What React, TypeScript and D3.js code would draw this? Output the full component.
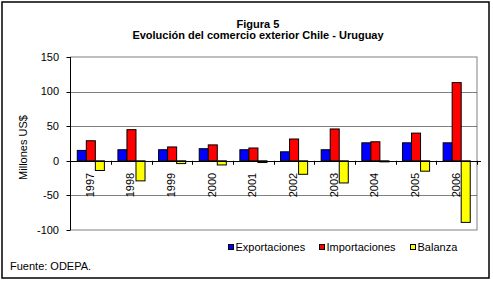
import React from "react";
import * as d3 from "d3";

const years = ["1997", "1998", "1999", "2000", "2001", "2002", "2003", "2004", "2005", "2006"];
const exportaciones = [15, 16, 16, 17.5, 16, 13, 16, 26, 26, 26];
const importaciones = [29, 45, 20, 23, 18.5, 31.5, 46, 27.5, 40, 113];
const balanza = [-14, -29, -4, -6, -2.5, -19.5, -32, -1.5, -15, -89];
const yTicks = [-100, -50, 0, 50, 100, 150];
const gridValues = [-50, 50, 100];
const seriesNames = ["Exportaciones", "Importaciones", "Balanza"];
const seriesColors = ["#0000ff", "#ff0000", "#ffff00"];

const W = 493;
const H = 281;
const FONT = "'Liberation Sans', Arial, sans-serif";

export default function App() {
  const left = 70.5;
  const right = 477;
  const top = 57;
  const bottom = 230;
  const y = d3.scaleLinear().domain([-100, 150]).range([bottom, top]);
  const x0 = d3.scaleBand<string>().domain(years).range([left, right]).padding(0);
  const bw = x0.bandwidth();
  const groupW = bw / 1.5;
  const x1 = d3
    .scaleBand<string>()
    .domain(seriesNames)
    .range([(bw - groupW) / 2, (bw + groupW) / 2])
    .padding(0);
  const series = [exportaciones, importaciones, balanza];
  const y0 = y(0);

  const legendItems = [
    { name: seriesNames[0], color: seriesColors[0], x: 228.5 },
    { name: seriesNames[1], color: seriesColors[1], x: 319.5 },
    { name: seriesNames[2], color: seriesColors[2], x: 410.5 },
  ];

  return (
    <div style={{ position: "absolute", left: 0, top: 0 }}>
      <svg width={W} height={H} style={{ display: "block", fontFamily: FONT }}>
        <rect x={0} y={0} width={W} height={H} fill="#fff" />
        <rect x={2} y={2} width={487} height={276} fill="#fff" stroke="#000" strokeWidth={1.5} />
        <text x={258} y={27.5} textAnchor="middle" fontSize={11} fontWeight="bold">
          Figura 5
        </text>
        <text x={258} y={39} textAnchor="middle" fontSize={11} fontWeight="bold">
          Evolución del comercio exterior Chile - Uruguay
        </text>

        {/* plot border */}
        <rect x={left} y={top} width={right - left} height={bottom - top} fill="none" stroke="#808080" strokeWidth={1} />

        {gridValues.map((v) => (
          <line
            key={v}
            x1={left}
            x2={right}
            y1={Math.round(y(v)) + 0.5}
            y2={Math.round(y(v)) + 0.5}
            stroke="#000"
            strokeWidth={1}
            strokeDasharray="1,1"
          />
        ))}

        {/* bars */}
        {years.map((yr, i) => (
          <g key={yr} transform={`translate(${x0(yr)},0)`}>
            {series.map((s, j) => {
              const v = s[i];
              const yy = y(Math.max(0, v));
              const hh = Math.abs(y(v) - y0);
              return (
                <rect
                  key={j}
                  x={x1(seriesNames[j])}
                  y={yy}
                  width={x1.bandwidth()}
                  height={hh}
                  fill={seriesColors[j]}
                  stroke="#000"
                  strokeWidth={1}
                />
              );
            })}
          </g>
        ))}

        {/* zero axis */}
        <line x1={left} x2={right + 4} y1={Math.round(y0) + 0.5} y2={Math.round(y0) + 0.5} stroke="#000" strokeWidth={1} />
        {years.map((yr, i) => (
          <line
            key={"t" + yr}
            x1={Math.round((x0(yr) as number) + bw) + 0.5}
            x2={Math.round((x0(yr) as number) + bw) + 0.5}
            y1={y0}
            y2={y0 + 4}
            stroke="#000"
          />
        ))}
        {years.map((yr) => {
          const cx = (x0(yr) as number) + bw / 2 + 3;
          const ty = y0 + 12;
          return (
            <text
              key={"l" + yr}
              transform={`translate(${cx},${ty}) rotate(-90)`}
              textAnchor="end"
              fontSize={11}
              fill="#000"
            >
              {yr}
            </text>
          );
        })}

        {/* y axis */}
        <line x1={left} x2={left} y1={top} y2={bottom} stroke="#000" strokeWidth={1} />
        {yTicks.map((t) => (
          <g key={t}>
            <line x1={left - 4} x2={left} y1={Math.round(y(t)) + 0.5} y2={Math.round(y(t)) + 0.5} stroke="#000" />
            <text x={59} y={y(t)} dy="0.35em" textAnchor="end" fontSize={11} fill="#000">
              {t}
            </text>
          </g>
        ))}
        <text transform={`translate(27,${(top + bottom) / 2 + 4}) rotate(-90)`} textAnchor="middle" fontSize={11}>
          Millones US$
        </text>

        {/* legend */}
        {legendItems.map((it) => (
          <g key={it.name}>
            <rect x={it.x} y={244.5} width={5} height={5} fill={it.color} stroke="#000" strokeWidth={1} />
            <text x={it.x + 7} y={251} fontSize={11}>
              {it.name}
            </text>
          </g>
        ))}

        <text x={10} y={269.5} fontSize={11}>
          Fuente: ODEPA.
        </text>
      </svg>
    </div>
  );
}
